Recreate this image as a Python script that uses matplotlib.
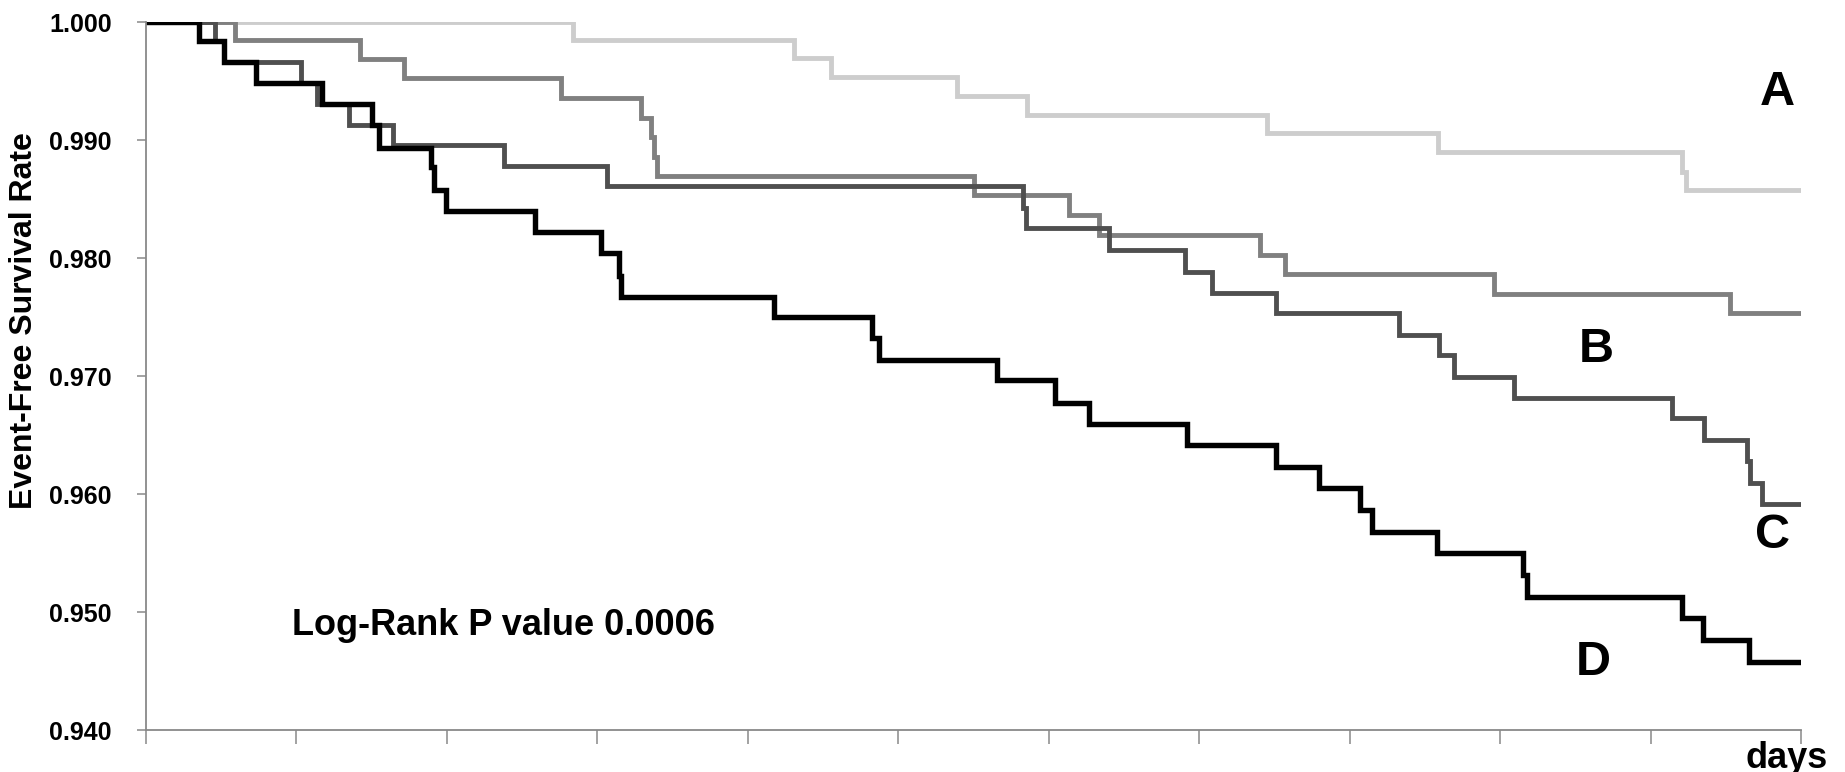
import matplotlib
matplotlib.use("Agg")
import matplotlib.pyplot as plt
from matplotlib.ticker import FormatStrFormatter

# Kaplan-Meier style step curves (x in days scale 0..1100)
a_days = [0, 283.5, 431, 455, 539, 585.6, 745.3, 859, 1021, 1023.8, 1100]
a_surv = [1.0, 0.9985, 0.99695, 0.99536, 0.99378, 0.99217, 0.99059, 0.98898, 0.98733, 0.98578, 0.98578]

b_days = [0, 58.9, 142, 171.7, 276.1, 329, 335.9, 337.8, 339.5, 550.6, 613.3, 633.7,
          740.2, 757.1, 896.2, 1053, 1100]
b_surv = [1.0, 0.9985, 0.99686, 0.99525, 0.99356, 0.99186, 0.9903, 0.98861, 0.98697, 0.98536,
          0.98366, 0.98197, 0.98027, 0.97866, 0.97696, 0.97533, 0.97533]

c_days = [0, 45.9, 52.2, 103.3, 113.5, 134.9, 164.5, 238.1, 306.5, 583, 585, 640, 690.4,
          708.2, 751.3, 833, 859.1, 869.1, 909.5, 1014.5, 1035.6, 1063.8, 1066, 1073.8, 1100]
c_surv = [1.0, 0.99844, 0.99666, 0.99488, 0.99305, 0.99129, 0.9896, 0.98782, 0.98612, 0.98423,
          0.98253, 0.98069, 0.97886, 0.97707, 0.97533, 0.97349, 0.97179, 0.96995, 0.96812,
          0.96643, 0.96459, 0.96283, 0.96097, 0.95916, 0.95916]

d_days = [0, 35.2, 52.2, 73.1, 116.9, 150.4, 154.6, 189.4, 191.2, 199.7, 258.3, 302.6, 314.6,
          315.8, 417.4, 482.7, 487.2, 565.7, 604.4, 626.6, 692, 751.3, 779.6, 807, 814.7, 858,
          915, 917.7, 1020.6, 1034.6, 1065.7, 1100]
d_surv = [1.0, 0.99844, 0.99666, 0.99483, 0.99305, 0.99129, 0.98932, 0.98776, 0.98578, 0.984,
          0.98225, 0.98041, 0.97851, 0.97674, 0.97504, 0.97321, 0.97137, 0.96967, 0.96775,
          0.96592, 0.96416, 0.96227, 0.96049, 0.95865, 0.95681, 0.95498, 0.95314, 0.95125,
          0.94947, 0.94763, 0.94579, 0.94579]

group_names = ["A", "B", "C", "D"]
name_pos = [(1084, 0.99409), (964, 0.97226), (1081, 0.9565), (962, 0.94572)]
y_ticks = [0.940, 0.950, 0.960, 0.970, 0.980, 0.990, 1.000]
x_ticks = list(range(0, 1101, 100))

plt.rcParams['font.family'] = ['Liberation Sans', 'DejaVu Sans']
plt.rcParams['font.weight'] = 'bold'

fig = plt.figure(figsize=(18.45, 7.72), dpi=100)
ax = fig.add_axes([0.0791, 0.0544, 0.9762 - 0.0791, 0.9711 - 0.0544])

curves = [(a_days, a_surv, "#cdcdcd", 3.5),
          (b_days, b_surv, "#808080", 3.5),
          (c_days, c_surv, "#4f4f4f", 3.5),
          (d_days, d_surv, "#000000", 3.9)]
for days, surv, col, lw in curves:
    ax.step(days, surv, where="post", color=col, lw=lw, solid_joinstyle="miter")

for name, (x, y) in zip(group_names, name_pos):
    ax.text(x, y, name, fontsize=35, fontweight="bold", ha="center", va="center")

ax.text(97, 0.9489, "Log-Rank P value 0.0006", fontsize=26, fontweight="bold",
        ha="left", va="center")

ax.set_xlim(0, 1100)
ax.set_ylim(0.940, 1.000)
ax.set_yticks(y_ticks)
ax.yaxis.set_major_formatter(FormatStrFormatter("%.3f"))
ax.set_xticks(x_ticks)
ax.set_xticklabels([])

for s in ["top", "right"]:
    ax.spines[s].set_visible(False)
for s in ["left", "bottom"]:
    ax.spines[s].set_color("#898989")
    ax.spines[s].set_linewidth(1.3)

ax.tick_params(axis="y", direction="out", length=6.5, width=1.1, color="#898989",
               labelsize=18, pad=18)
ax.tick_params(axis="x", direction="out", length=10, width=1.1, color="#898989")
for lab in ax.get_yticklabels():
    lab.set_fontweight("bold")

fig.text(24 / 1845, 0.585, "Event-Free Survival Rate", rotation=90, fontsize=23,
         fontweight="bold", ha="center", va="center")
fig.text(1828 / 1845, 0.005, "days", fontsize=26, fontweight="bold",
         ha="right", va="baseline")

fig.savefig("out.png", dpi=100, facecolor="white")
